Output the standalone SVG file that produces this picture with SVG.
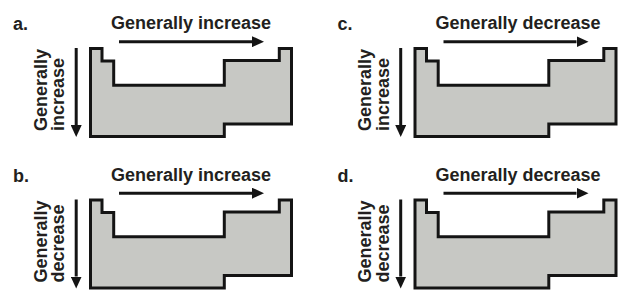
<svg xmlns="http://www.w3.org/2000/svg" xmlns:xlink="http://www.w3.org/1999/xlink" width="643" height="300" viewBox="0 0 643 300">
  <style>
    .tbl { fill: #c7c8c4; stroke: #141414; stroke-width: 3; stroke-linejoin: miter; }
    .lbl, .h, .v { font-family: "Liberation Sans", Arial, sans-serif; font-weight: bold; font-size: 18px; fill: #231f20; }
    .arr { stroke: #141414; stroke-width: 3; fill: none; marker-end: url(#head); }
  </style>
  <defs>
    <marker id="head" markerUnits="userSpaceOnUse" viewBox="0 0 12 11" refX="0" refY="5.5" markerWidth="12" markerHeight="11" orient="auto">
      <path d="M0,0 L12,5.5 L0,11 Z" fill="#141414"/>
    </marker>
    <path id="table" class="tbl" d="M90.5,48.5 H102 V61 H113.7 V85.3 H224.3 V60.5 H279.3 V48.5 H291.5 V124 H224.3 V136.6 H90.5 Z"/>
  </defs>
  <rect width="643" height="300" fill="#ffffff"/>

  <g id="panel-a">
    <use xlink:href="#table" href="#table"/>
    <text class="lbl" x="13" y="30">a.</text>
    <text class="h" x="111" y="29.3">Generally increase</text>
    <text class="v" transform="translate(46.5,131) rotate(-90)">Generally</text>
    <text class="v" transform="translate(64,131) rotate(-90)">increase</text>
  </g>

  <g id="panel-b" transform="translate(0,151.5)">
    <use xlink:href="#table" href="#table"/>
    <text class="lbl" x="13" y="30">b.</text>
    <text class="h" x="111" y="29.3">Generally increase</text>
    <text class="v" transform="translate(46.5,131) rotate(-90)">Generally</text>
    <text class="v" transform="translate(64,131) rotate(-90)">decrease</text>
  </g>

  <g id="panel-c" transform="translate(324.5,0)">
    <use xlink:href="#table" href="#table"/>
    <text class="lbl" x="13" y="30">c.</text>
    <text class="h" x="111" y="29.3">Generally decrease</text>
    <text class="v" transform="translate(46.5,131) rotate(-90)">Generally</text>
    <text class="v" transform="translate(64,131) rotate(-90)">increase</text>
  </g>

  <g id="panel-d" transform="translate(324.5,151.5)">
    <use xlink:href="#table" href="#table"/>
    <text class="lbl" x="13" y="30">d.</text>
    <text class="h" x="111" y="29.3">Generally decrease</text>
    <text class="v" transform="translate(46.5,131) rotate(-90)">Generally</text>
    <text class="v" transform="translate(64,131) rotate(-90)">decrease</text>
  </g>

  <g id="connectors">
    <g transform="translate(0,0)">
      <line class="arr" x1="119" y1="41.7" x2="252" y2="41.7"/>
      <line class="arr" x1="76.2" y1="48" x2="76.2" y2="125"/>
    </g>
    <g transform="translate(0,151.5)">
      <line class="arr" x1="119" y1="41.7" x2="252" y2="41.7"/>
      <line class="arr" x1="76.2" y1="48" x2="76.2" y2="125"/>
    </g>
    <g transform="translate(324.5,0)">
      <line class="arr" x1="119" y1="41.7" x2="252" y2="41.7"/>
      <line class="arr" x1="76.2" y1="48" x2="76.2" y2="125"/>
    </g>
    <g transform="translate(324.5,151.5)">
      <line class="arr" x1="119" y1="41.7" x2="252" y2="41.7"/>
      <line class="arr" x1="76.2" y1="48" x2="76.2" y2="125"/>
    </g>
  </g>
</svg>
